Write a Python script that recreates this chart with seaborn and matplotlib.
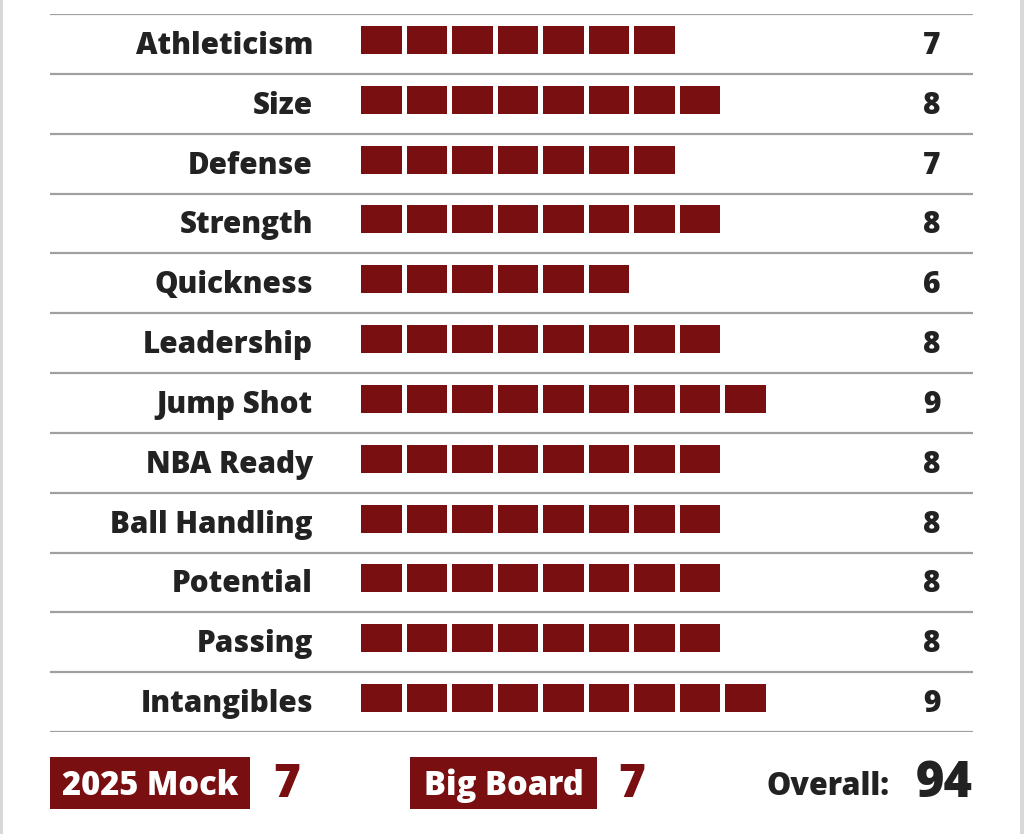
import matplotlib
matplotlib.use("Agg")
import matplotlib.pyplot as plt
import seaborn as sns
import pandas as pd
from matplotlib.patches import Rectangle

categories = ["Athleticism", "Size", "Defense", "Strength", "Quickness", "Leadership",
              "Jump Shot", "NBA Ready", "Ball Handling", "Potential", "Passing", "Intangibles"]
scores = [7, 8, 7, 8, 6, 8, 9, 8, 8, 8, 8, 9]
mock_label = "2025 Mock"
mock_value = 7
board_label = "Big Board"
board_value = 7
overall_label = "Overall:"
overall_value = 94

RED = "#7a0f12"
DARK = "#222222"
GRID = "#a0a0a0"

sns.set_theme(style="white")
FONT = "Open Sans"
plt.rcParams["font.family"] = [FONT, "DejaVu Sans"]
WEIGHT = 800

W, H = 1024, 834
fig = plt.figure(figsize=(W / 100, H / 100), dpi=100)
fig.patch.set_facecolor("white")

# long-form block table
rows = []
for i, (c, s) in enumerate(zip(categories, scores)):
    for b in range(s):
        rows.append({"row": i, "category": c, "block": b})
blocks = pd.DataFrame(rows)

period = 45.5
x0 = 361
left_px, right_px = 50, 973
top_px, bot_px = 14, 732
ax = fig.add_axes([left_px / W, 1 - bot_px / H, (right_px - left_px) / W, (bot_px - top_px) / H])
ax.set_xlim((left_px - x0) / period, (right_px - x0) / period)
n = len(categories)
ax.set_ylim(n - 0.5, -0.5)
ax.axis("off")

row_px = (bot_px - top_px) / n
bh = 28 / row_px
yoff = -4 / row_px
bw = 40.5 / period
ax.barh(blocks["row"] + yoff, bw, left=blocks["block"], height=bh, color=RED, linewidth=0)

ax.hlines([k - 0.5 for k in range(n + 1)], *ax.get_xlim(), color=GRID, lw=1.6)

base = (54 - 44) / row_px
lab_x = (313 - x0) / period
val_x = (932 - x0) / period
for i, (c, s) in enumerate(zip(categories, scores)):
    ax.text(lab_x, i + base, c, ha="right", va="baseline", fontsize=21.3,
            fontweight=WEIGHT, color=DARK)
    ax.text(val_x, i + base, str(s), ha="center", va="baseline", fontsize=21.5,
            fontweight=WEIGHT, color=DARK)

# side borders
fig.add_artist(Rectangle((0, 0), 3 / W, 1, transform=fig.transFigure, color="#d8d8d8", lw=0))
fig.add_artist(Rectangle((1020 / W, 0), 4 / W, 1, transform=fig.transFigure, color="#d8d8d8", lw=0))

# bottom boxes
def box(x1, x2, label):
    y1, y2 = 757, 809
    fig.add_artist(Rectangle((x1 / W, 1 - y2 / H), (x2 - x1) / W, (y2 - y1) / H,
                             transform=fig.transFigure, color=RED, lw=0))
    fig.text((x1 + x2) / 2 / W, 1 - 795 / H, label, ha="center", va="baseline",
             fontsize=23.5, fontweight=WEIGHT, color="white")

box(50, 250, mock_label)
box(410, 597, board_label)
fig.text(287 / W, 1 - 797 / H, str(mock_value), ha="center", va="baseline",
         fontsize=33, fontweight=WEIGHT, color=RED)
fig.text(632 / W, 1 - 797 / H, str(board_value), ha="center", va="baseline",
         fontsize=33, fontweight=WEIGHT, color=RED)
fig.text(890 / W, 1 - 795 / H, overall_label, ha="right", va="baseline",
         fontsize=22, fontweight=WEIGHT, color=DARK)
fig.text(973 / W, 1 - 797 / H, str(overall_value), ha="right", va="baseline",
         fontsize=35, fontweight=WEIGHT, color=DARK)

fig.savefig("out.png", dpi=100, facecolor="white")
